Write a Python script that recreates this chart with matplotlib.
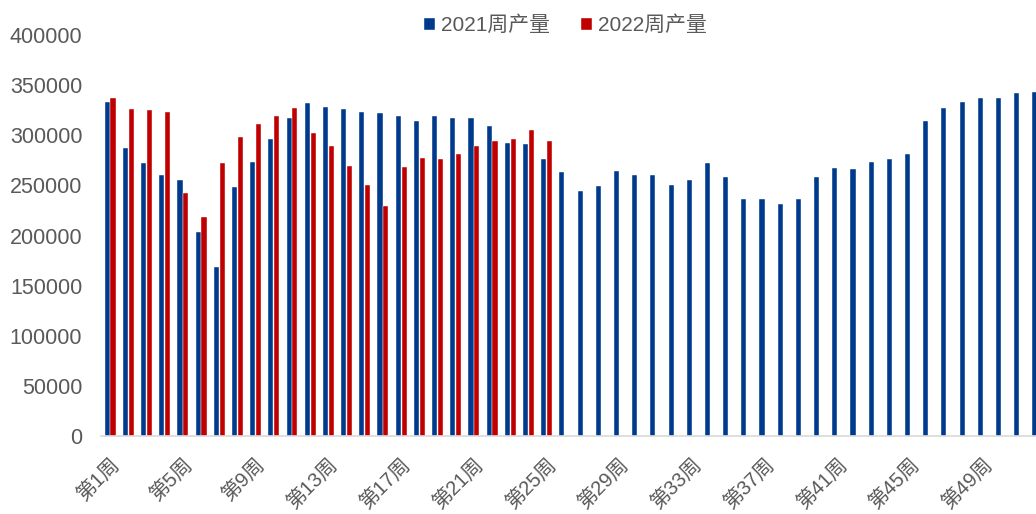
import numpy as np
import matplotlib.pyplot as plt

plt.rcParams['font.family'] = ['Liberation Sans', 'Noto Sans CJK SC', 'DejaVu Sans']

# weekly output, 2021 (52 weeks) and 2022 (first 25 weeks)
weeks = [f"第{i}周" for i in range(1, 53)]
prod_2021 = [333500, 287600, 272000, 260700, 255700, 203200, 168300, 248000,
             273600, 296600, 316900, 332200, 328500, 325900, 323200, 321900,
             319500, 314500, 319500, 316900, 316900, 308900, 292600, 291300,
             276000, 263000, 244000, 249100, 264700, 260700, 260700, 250400,
             255700, 272000, 258000, 236100, 236100, 231100, 236100, 258000,
             267000, 266000, 273300, 276000, 281000, 314200, 326900, 333500,
             337500, 337500, 342500, 343500]
prod_2022 = [337500, 325900, 324900, 323200, 242700, 218500, 272000, 298000,
             310900, 319500, 326900, 301900, 289000, 269600, 250100, 229700,
             268000, 277000, 276000, 281000, 289000, 294000, 296300, 305200,
             294000]

blue = "#003A8C"
red = "#C00000"
grey = "#595959"

fig = plt.figure(figsize=(10.36, 5.14), dpi=100)
ax = fig.add_axes([0.0975, 0.1518, 0.913, 0.780])

x = np.arange(len(weeks))
bw = 0.28
ax.bar(x[:len(prod_2021)] - 0.16, prod_2021, width=bw, color=blue,
       edgecolor="white", linewidth=0.3, label="2021周产量")
ax.bar(x[:len(prod_2022)] + 0.16, prod_2022, width=bw, color=red,
       edgecolor="white", linewidth=0.3, label="2022周产量")

ax.set_xlim(-0.5, 51.5)
ax.set_ylim(0, 400000)
ax.set_yticks(range(0, 400001, 50000))
ax.set_yticklabels([str(v) for v in range(0, 400001, 50000)])
ax.tick_params(axis='y', length=0, pad=13.5, labelsize=15.5, labelcolor=grey)

ax.set_xticks(x[::4])
ax.set_xticklabels(weeks[::4], rotation=45, ha='right', rotation_mode='anchor')
ax.tick_params(axis='x', length=0, pad=14, labelsize=14.5, labelcolor=grey)

for s in ['top', 'right', 'left']:
    ax.spines[s].set_visible(False)
ax.spines['bottom'].set_color("#D9D9D9")
ax.spines['bottom'].set_linewidth(1.2)

leg = fig.legend(loc='center', bbox_to_anchor=(0.546, 0.951), ncol=2, frameon=False,
                 handlelength=0.5, handleheight=0.5, handletextpad=0.3,
                 columnspacing=1.5, prop={'family': ['Liberation Sans', 'Noto Sans CJK SC'], 'size': 15})
for t in leg.get_texts():
    t.set_color(grey)

fig.savefig("out.png", dpi=100)
